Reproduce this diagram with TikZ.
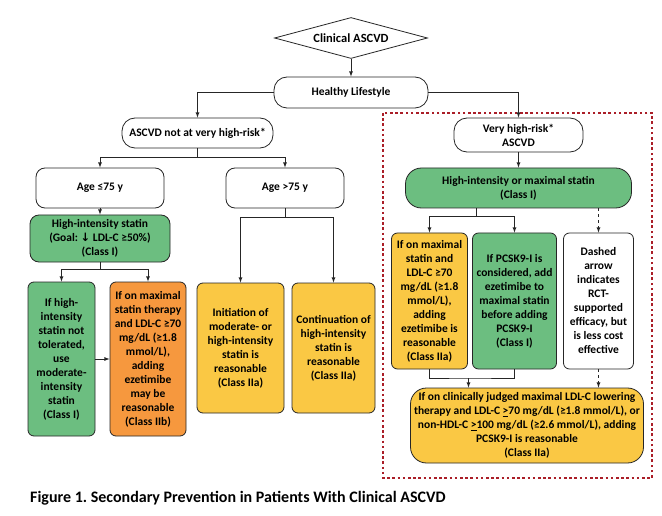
\documentclass[tikz,border=0pt]{standalone}
\usepackage{fontspec}
\setmainfont{Carlito}
\newfontfamily\symfont{DejaVu Sans}
\usepackage{xcolor}
\usetikzlibrary{
    shapes,
    shapes.geometric,
    positioning,
    arrows,
    calc
}
\definecolor{statgreen}{RGB}{108,190,128}
\definecolor{statyellow}{RGB}{250,200,68}
\definecolor{statorange}{RGB}{246,152,62}
\definecolor{dotred}{RGB}{170,30,40}
\tikzset{
  basic/.style = {
      draw=black!85,
      line width=0.8pt,
      font=\fontsize{11.5}{14}\selectfont\bfseries,
      rectangle,
      fill=white,
      align=center,
      inner sep=2pt
  },
  pill/.style = {
    basic,
    rounded corners=13pt
  },
  round/.style = {
    basic,
    rounded corners=9pt
  },
  tall/.style = {
    basic,
    rounded corners=6pt
  },
  rhombus/.style = {
    basic,
    diamond,
    shape aspect=3.7,
    inner sep=0pt,
    font=\fontsize{12.5}{15}\selectfont\bfseries
  },
  edge/.style = {
      draw=black!85,
      line width=0.8pt
  },
  frame/.style = {
      draw=dotred,
      line width=2.6pt,
      dash pattern=on 2.6pt off 2.6pt
  },
  caption/.style = {
      font=\fontsize{16}{19}\selectfont\bfseries,
      anchor=west,
      inner sep=0pt
  }
}
\frenchspacing

\begin{document}
\begin{tikzpicture}[x=1pt, y=-1pt, >=latex]
        \useasboundingbox[fill=white] (0,0) rectangle (662,516);
        % Frame
        \draw[frame] (383,113) rectangle (652,478);
        % Top
        \node[rhombus, minimum width=153pt, minimum height=41pt] (clin) at (351,38) {Clinical ASCVD};
        \node[pill, minimum width=154pt, minimum height=31pt, below of=clin, node distance=54.5pt] (life) {Healthy Lifestyle};
        \node[pill, minimum width=151pt, minimum height=30pt, below of=life, node distance=40.5pt, xshift=-153.5pt] (notvh) {ASCVD not at very high-risk*};
        \node[pill, minimum width=129pt, minimum height=34pt, below of=life, node distance=42.5pt, xshift=167.5pt] (vh) {Very high-risk*\\ASCVD};
        % Left branch
        \node[round, minimum width=128pt, minimum height=40pt, below of=notvh, node distance=55pt, xshift=-97.5pt] (young) {Age ≤75 y};
        \node[round, minimum width=118pt, minimum height=40pt, right of=young, node distance=185pt] (old) {Age >75 y};
        \node[round, fill=statgreen, minimum width=140pt, minimum height=47pt, below of=young, node distance=50.5pt] (his) {High-intensity statin\\(Goal: {\symfont\bfseries ↓} LDL-C ≥50\%)\\(Class I)};
        \node[tall, fill=statgreen, minimum width=67pt, minimum height=154pt, below of=his, node distance=120.5pt, xshift=-38.5pt] (moder) {If high-\\intensity\\statin not\\tolerated,\\use\\moderate-\\intensity\\statin\\(Class I)};
        \node[tall, fill=statorange, minimum width=76pt, minimum height=154pt, right of=moder, node distance=86.5pt] (ezeb) {If on maximal\\statin therapy\\and LDL-C ≥70\\mg/dL (≥1.8\\mmol/L),\\adding\\ezetimibe\\may be\\reasonable\\(Class IIb)};
        \node[tall, fill=statyellow, minimum width=87pt, minimum height=130pt, below of=old, node distance=160pt, xshift=-44.5pt] (init) {Initiation of\\moderate- or\\high-intensity\\statin is\\reasonable\\(Class IIa)};
        \node[tall, fill=statyellow, minimum width=83pt, minimum height=130pt, right of=init, node distance=93pt] (cont) {Continuation of\\high-intensity\\statin is\\reasonable\\(Class IIa)};
        % Right branch
        \node[pill, rounded corners=16pt, fill=statgreen, minimum width=226pt, minimum height=40pt, below of=vh, node distance=53pt] (hims) {High-intensity or maximal statin\\(Class I)};
        \node[tall, fill=statyellow, minimum width=76pt, minimum height=136pt, below of=hims, node distance=113pt, xshift=-89pt] (ezea) {If on maximal\\statin and\\LDL-C ≥70\\mg/dL (≥1.8\\mmol/L),\\adding\\ezetimibe is\\reasonable\\(Class IIa)};
        \node[tall, fill=statgreen, minimum width=84pt, minimum height=136pt, right of=ezea, node distance=85pt] (pcsk) {If PCSK9-I is\\considered, add\\ezetimibe to\\maximal statin\\before adding\\PCSK9-I\\(Class I)};
        \node[tall, minimum width=70pt, minimum height=136pt, right of=pcsk, node distance=84pt] (dash) {Dashed\\arrow\\indicates\\RCT-\\supported\\efficacy, but\\is less cost\\effective};
        \node[pill, rounded corners=16pt, fill=statyellow, minimum width=233pt, minimum height=75pt, below of=pcsk, node distance=124.5pt, xshift=12.5pt] (final) {If on clinically judged maximal LDL-C lowering\\therapy and LDL-C \underline{>}70 mg/dL (≥1.8 mmol/L), or\\non-HDL-C \underline{>}100 mg/dL (≥2.6 mmol/L), adding\\PCSK9-I is reasonable\\(Class IIa)};
        % Joints
        \coordinate[below of=notvh, node distance=24pt] (j1);
        \coordinate[below of=his, node distance=30.5pt] (j2);
        \coordinate[below of=old, node distance=29pt] (j3);
        \coordinate[below of=hims, node distance=28pt, xshift=-42pt] (j4);
        \coordinate[below of=ezea, node distance=77pt, xshift=39pt] (j5);
        % Edges
        \draw[->, edge] (clin) -- (life);
        \draw[->, edge] (life.west) -| (notvh.north);
        \draw[->, edge] (life.east) -| (vh.north);
        \draw[edge] (notvh) -- (j1);
        \draw[->, edge] (j1) -| (young.north);
        \draw[->, edge] (j1) -| (old.north);
        \draw[->, edge] (young) -- (his);
        \draw[edge] (his) -- (j2);
        \draw[->, edge] (j2) -| (moder.north);
        \draw[->, edge] (j2) -| (ezeb.north);
        \draw[->, edge] (moder) -- (ezeb);
        \draw[edge] (old) -- (j3);
        \draw[->, edge] (j3) -| (init.north);
        \draw[->, edge] (j3) -| (cont.north);
        \draw[->, edge] (vh) -- (hims);
        \draw[edge] (j4 |- hims.south) -- (j4);
        \draw[->, edge] (j4) -| (ezea.north);
        \draw[->, edge] (j4) -| (pcsk.north);
        \draw[->, edge, dashed] (dash.north |- hims.south) -- (dash.north);
        \draw[edge] (ezea.south) |- (j5) -| (pcsk.south);
        \draw[->, edge] (j5) -- (j5 |- final.north);
        \draw[->, edge, dashed] (dash.south) -- (dash.south |- final.north);
        % Caption
        \node[caption] (cap) at (30,498) {Figure 1. Secondary Prevention in Patients With Clinical ASCVD};
    \end{tikzpicture}
\end{document}
